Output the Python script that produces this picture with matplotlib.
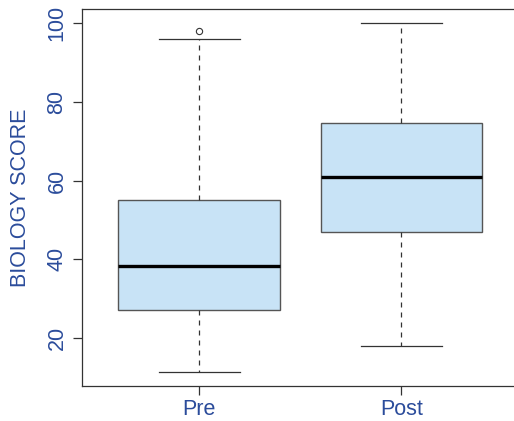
import matplotlib
matplotlib.use("Agg")
import matplotlib.pyplot as plt

groups = ["Pre", "Post"]
whislo = [11.3, 18.0]
q1 = [27.0, 47.0]
med = [38.3, 60.8]
q3 = [55.0, 74.5]
whishi = [96.0, 100.0]
fliers = [[98.0], []]
yticks = [20, 40, 60, 80, 100]
ylabel = "BIOLOGY SCORE"

blue = "#2B4C9B"
plt.rcParams['font.family'] = ['Liberation Sans', 'DejaVu Sans']

fig = plt.figure(figsize=(5.14, 4.21), dpi=100)
ax = fig.add_axes([82/514, 34.7/421, (518.7-82)/514, (412-34.7)/421])

stats = []
for i, g in enumerate(groups):
    stats.append(dict(label=g, whislo=whislo[i], q1=q1[i], med=med[i],
                      q3=q3[i], whishi=whishi[i], fliers=fliers[i]))

ax.bxp(stats, positions=[1, 2], widths=0.8, patch_artist=True,
       boxprops=dict(facecolor="#C8E3F6", edgecolor="#555555", linewidth=1.0),
       medianprops=dict(color="black", linewidth=2.4, solid_capstyle="butt"),
       whiskerprops=dict(color="#333333", linewidth=0.9, linestyle=(0, (4, 4))),
       capprops=dict(color="#333333", linewidth=0.9),
       flierprops=dict(marker="o", markersize=4.5, markerfacecolor="none",
                       markeredgecolor="#333333", markeredgewidth=0.8),
       capwidths=0.4)

ax.set_xlim(0.42, 2.58)
ax.set_ylim(7.75, 103.55)
ax.set_yticks(yticks)
ax.set_yticklabels([str(t) for t in yticks], rotation=90, va="center")
ax.set_xticks([1, 2])
ax.set_xticklabels(groups)
ax.tick_params(axis="both", length=6.5, width=0.9, color="#333333",
               labelcolor=blue, labelsize=15.5)
ax.tick_params(axis="y", pad=4)
ax.tick_params(axis="x", pad=3)
for s in ax.spines.values():
    s.set_color("#333333")
    s.set_linewidth(0.9)
ax.set_ylabel(ylabel, color=blue, fontsize=15.5, labelpad=11)

fig.savefig("out.png", dpi=100)
